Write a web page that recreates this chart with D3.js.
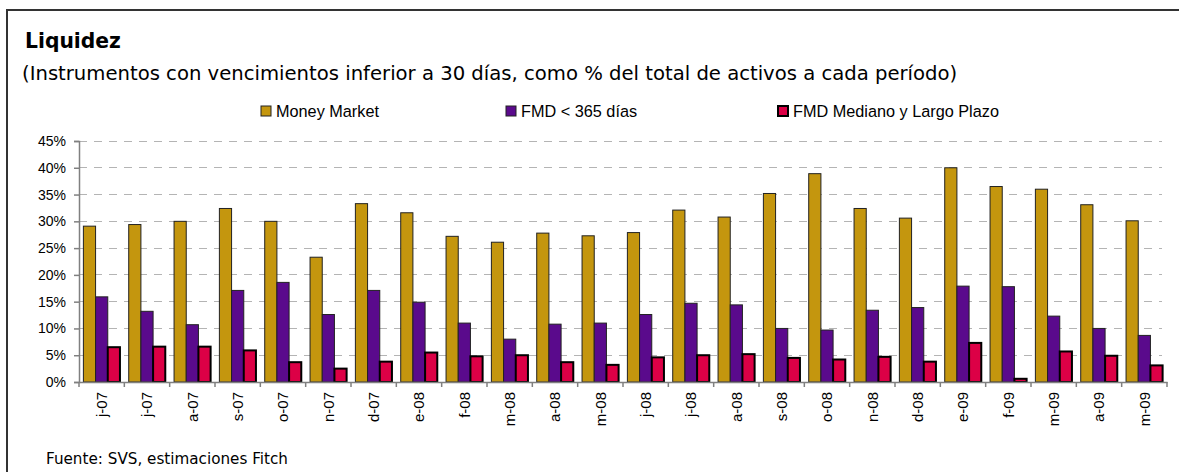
<!DOCTYPE html>
<html>
<head>
<meta charset="utf-8">
<script src="https://cdn.jsdelivr.net/npm/d3@7"></script>
<style>
  html, body { margin: 0; padding: 0; background: #fff; }
  svg { display: block; }
</style>
</head>
<body>
<svg id="chart" width="1179" height="472"></svg>
<script>
// ---- Data ----
const categories = ["j-07","j-07","a-07","s-07","o-07","n-07","d-07","e-08","f-08","m-08","a-08","m-08",
                    "j-08","j-08","a-08","s-08","o-08","n-08","d-08","e-09","f-09","m-09","a-09","m-09"];
const seriesNames = ["Money Market", "FMD < 365 días", "FMD Mediano y Largo Plazo"];
const moneyMarket = [29.1,29.4,30.0,32.4,30.0,23.3,33.3,31.6,27.2,26.1,27.8,27.3,
                     27.9,32.1,30.8,35.2,38.9,32.4,30.6,40.0,36.5,36.0,33.1,30.1];
const fmd365      = [15.9,13.2,10.7,17.1,18.6,12.6,17.1,14.9,11.0,8.0,10.8,11.0,
                     12.6,14.7,14.4,10.0,9.7,13.4,13.9,17.9,17.8,12.3,10.0,8.7];
const fmdMLP      = [6.5,6.6,6.6,5.9,3.7,2.5,3.8,5.5,4.8,5.0,3.7,3.2,
                     4.6,5.0,5.2,4.5,4.2,4.7,3.8,7.3,0.6,5.7,4.9,3.1];
const yTicks = [0,5,10,15,20,25,30,35,40,45];
const titleText = "Liquidez";
const subtitleText = "(Instrumentos con vencimientos inferior a 30 días, como % del total de activos a cada período)";
const sourceText = "Fuente: SVS, estimaciones Fitch";

// ---- Styles ----
const colors = ["#C4960E", "#5A0A8C", "#DC0046"];
const strokes = [{c:"#222", w:1}, {c:"#222", w:1}, {c:"#000", w:2}];
const textFont = "'DejaVu Sans', sans-serif";
const axisFont = "'Liberation Sans', Arial, sans-serif";

const svg = d3.select("#chart");

// frame
svg.append("path")
  .attr("d", "M7,472 V10 H1179")
  .attr("fill", "none").attr("stroke", "#333").attr("stroke-width", 2);

function fit(sel, target) {
  const w = sel.node().getComputedTextLength();
  const fs = parseFloat(sel.attr("font-size"));
  sel.attr("font-size", fs * target / w);
  return sel;
}

// titles
fit(svg.append("text").text(titleText)
  .attr("x", 25).attr("y", 48).attr("font-family", textFont)
  .attr("font-weight", "bold").attr("font-size", 20)
  .attr("fill", "#000"), 96);
fit(svg.append("text").text(subtitleText)
  .attr("x", 22).attr("y", 80).attr("font-family", textFont)
  .attr("font-size", 20).attr("fill", "#000"), 936);
fit(svg.append("text").text(sourceText)
  .attr("x", 46).attr("y", 464).attr("font-family", textFont)
  .attr("font-size", 15).attr("fill", "#000"), 242);

// ---- Scales ----
const x0 = d3.scaleBand().domain(d3.range(categories.length)).range([79, 1167]).padding(0);
const x1 = d3.scaleBand().domain(d3.range(seriesNames.length)).range([0, x0.bandwidth()])
  .paddingInner(0).paddingOuter(0.36);
const y = d3.scaleLinear().domain([0, 45]).range([382, 141]);

// gridlines
svg.append("g").selectAll("line").data(yTicks.filter(d => d > 0)).join("line")
  .attr("x1", 79).attr("x2", 1162)
  .attr("y1", d => y(d)).attr("y2", d => y(d))
  .attr("stroke", "#b4b4b4").attr("stroke-width", 1).attr("stroke-dasharray", "8,7")
  .attr("shape-rendering", "crispEdges");

// bars
const series = [moneyMarket, fmd365, fmdMLP];
const groups = svg.append("g").selectAll("g").data(series).join("g");
groups.each(function(vals, si) {
  d3.select(this).selectAll("rect").data(vals).join("rect")
    .attr("x", (d, i) => x0(i) + x1(si))
    .attr("width", x1.bandwidth())
    .attr("y", d => y(d))
    .attr("height", d => y(0) - y(d))
    .attr("fill", colors[si])
    .attr("stroke", strokes[si].c)
    .attr("stroke-width", strokes[si].w);
});

// y axis
const yAxis = svg.append("g").attr("transform", "translate(79,0)")
  .call(d3.axisLeft(y).tickValues(yTicks).tickSize(5).tickPadding(8).tickFormat(d => d + "%"));
yAxis.select(".domain").attr("stroke", "#808080").attr("stroke-width", 1.5);
yAxis.selectAll(".tick line").attr("stroke", "#808080").attr("stroke-width", 1.5);
yAxis.selectAll(".tick text").attr("font-family", axisFont).attr("font-size", 14).attr("fill", "#000");

// x axis
const xAxis = svg.append("g").attr("transform", "translate(0,382)")
  .call(d3.axisBottom(x0).tickSize(0).tickFormat(i => categories[i]));
xAxis.select(".domain").attr("stroke", "#808080").attr("stroke-width", 1.5);
xAxis.selectAll(".tick text")
  .attr("font-family", axisFont).attr("font-size", 15).attr("fill", "#000")
  .attr("text-anchor", "end")
  .attr("transform", "translate(0,10) rotate(-90)")
  .attr("x", 0).attr("y", 0).attr("dy", "0.35em");
// boundary ticks
xAxis.append("g").selectAll("line").data(d3.range(categories.length + 1)).join("line")
  .attr("x1", i => 79 + i * x0.step()).attr("x2", i => 79 + i * x0.step())
  .attr("y1", 0).attr("y2", 5)
  .attr("stroke", "#808080").attr("stroke-width", 1.5);

// legend
const legendX = [261, 506, 778];
const lg = svg.append("g").selectAll("g").data(seriesNames).join("g")
  .attr("transform", (d, i) => `translate(${legendX[i]},106)`);
lg.append("rect").attr("width", 10).attr("height", 10)
  .attr("fill", (d, i) => colors[i])
  .attr("stroke", (d, i) => strokes[i].c).attr("stroke-width", (d, i) => strokes[i].w);
const lt = lg.append("text").text(d => d).attr("x", 15).attr("y", 11)
  .attr("font-family", axisFont).attr("font-size", 15).attr("fill", "#000");
// size legend text so the longest entry matches the reference width
const longest = lt.filter((d, i) => i === 2);
const lfs = 15 * 206 / longest.node().getComputedTextLength();
lt.attr("font-size", lfs);
</script>
</body>
</html>
